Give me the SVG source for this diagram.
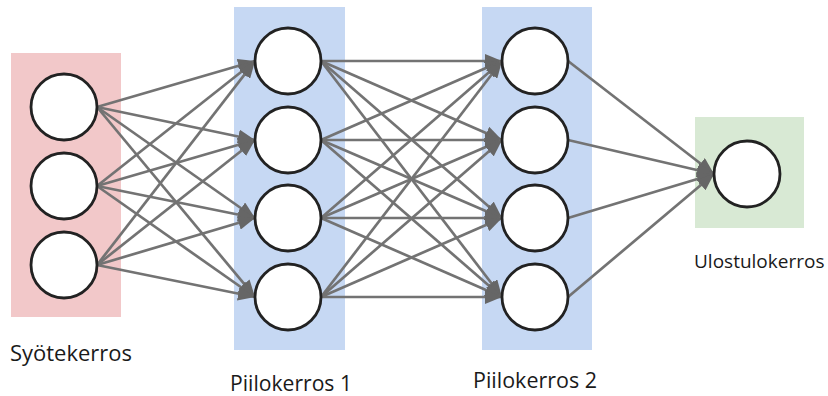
<svg xmlns="http://www.w3.org/2000/svg" width="828" height="396" viewBox="0 0 828 396">
  <style>
    .node { fill: #ffffff; stroke: #222222; stroke-width: 2.8; }
    .edge { stroke: #737373; stroke-width: 2.7; fill: none; marker-end: url(#arrow); }
    .label { font-family: "Open Sans", "Noto Sans", sans-serif; font-size: 21px; fill: #1a1a1a; }
    .label.narrow { font-size: 19px; }
  </style>
  <defs>
    <marker id="arrow" markerUnits="userSpaceOnUse" markerWidth="18" markerHeight="14" refX="17" refY="7" orient="auto">
      <path d="M0,0 L17,7 L0,14 Z" fill="#666666"/>
    </marker>
  </defs>

  <!-- layer backgrounds -->
  <g id="layers">
    <rect x="11" y="53" width="110" height="264" fill="#f2c8c9"/>
    <rect x="234" y="7" width="111" height="343" fill="#c6d8f3"/>
    <rect x="482" y="7" width="110" height="343" fill="#c6d8f3"/>
    <rect x="695" y="117" width="109" height="111" fill="#d8e9d4"/>
  </g>

  <!-- connections: input -> hidden 1 -> hidden 2 -> output -->
  <g id="connectors">
    <!-- input to hidden 1 -->
    <line class="edge" x1="97" y1="107" x2="255" y2="61"/>
    <line class="edge" x1="97" y1="107" x2="255" y2="140"/>
    <line class="edge" x1="97" y1="107" x2="255" y2="218"/>
    <line class="edge" x1="97" y1="107" x2="255" y2="297"/>
    <line class="edge" x1="97" y1="186" x2="255" y2="61"/>
    <line class="edge" x1="97" y1="186" x2="255" y2="140"/>
    <line class="edge" x1="97" y1="186" x2="255" y2="218"/>
    <line class="edge" x1="97" y1="186" x2="255" y2="297"/>
    <line class="edge" x1="97" y1="265" x2="255" y2="61"/>
    <line class="edge" x1="97" y1="265" x2="255" y2="140"/>
    <line class="edge" x1="97" y1="265" x2="255" y2="218"/>
    <line class="edge" x1="97" y1="265" x2="255" y2="297"/>
    <!-- hidden 1 to hidden 2 -->
    <line class="edge" x1="321" y1="61" x2="502" y2="61"/>
    <line class="edge" x1="321" y1="61" x2="502" y2="140"/>
    <line class="edge" x1="321" y1="61" x2="502" y2="218"/>
    <line class="edge" x1="321" y1="61" x2="502" y2="297"/>
    <line class="edge" x1="321" y1="140" x2="502" y2="61"/>
    <line class="edge" x1="321" y1="140" x2="502" y2="140"/>
    <line class="edge" x1="321" y1="140" x2="502" y2="218"/>
    <line class="edge" x1="321" y1="140" x2="502" y2="297"/>
    <line class="edge" x1="321" y1="218" x2="502" y2="61"/>
    <line class="edge" x1="321" y1="218" x2="502" y2="140"/>
    <line class="edge" x1="321" y1="218" x2="502" y2="218"/>
    <line class="edge" x1="321" y1="218" x2="502" y2="297"/>
    <line class="edge" x1="321" y1="297" x2="502" y2="61"/>
    <line class="edge" x1="321" y1="297" x2="502" y2="140"/>
    <line class="edge" x1="321" y1="297" x2="502" y2="218"/>
    <line class="edge" x1="321" y1="297" x2="502" y2="297"/>
    <!-- hidden 2 to output -->
    <line class="edge" x1="568" y1="61" x2="714" y2="174"/>
    <line class="edge" x1="568" y1="140" x2="714" y2="174"/>
    <line class="edge" x1="568" y1="218" x2="714" y2="174"/>
    <line class="edge" x1="568" y1="297" x2="714" y2="174"/>
  </g>

  <!-- input layer -->
  <g id="in1"><circle class="node" cx="64" cy="107" r="33"/></g>
  <g id="in2"><circle class="node" cx="64" cy="186" r="33"/></g>
  <g id="in3"><circle class="node" cx="64" cy="265" r="33"/></g>

  <!-- hidden layer 1 -->
  <g id="h1a"><circle class="node" cx="288" cy="61" r="33"/></g>
  <g id="h1b"><circle class="node" cx="288" cy="140" r="33"/></g>
  <g id="h1c"><circle class="node" cx="288" cy="218" r="33"/></g>
  <g id="h1d"><circle class="node" cx="288" cy="297" r="33"/></g>

  <!-- hidden layer 2 -->
  <g id="h2a"><circle class="node" cx="535" cy="61" r="33"/></g>
  <g id="h2b"><circle class="node" cx="535" cy="140" r="33"/></g>
  <g id="h2c"><circle class="node" cx="535" cy="218" r="33"/></g>
  <g id="h2d"><circle class="node" cx="535" cy="297" r="33"/></g>

  <!-- output layer -->
  <g id="out1"><circle class="node" cx="747" cy="174" r="33"/></g>

  <!-- layer captions -->
  <g id="captions">
    <text class="label" x="10" y="361" textLength="122" lengthAdjust="spacingAndGlyphs">Syötekerros</text>
    <text class="label" x="230" y="391" textLength="122" lengthAdjust="spacingAndGlyphs">Piilokerros 1</text>
    <text class="label" x="473" y="388" textLength="124" lengthAdjust="spacingAndGlyphs">Piilokerros 2</text>
    <text class="label narrow" x="694" y="268">Ulostulokerros</text>
  </g>
</svg>
